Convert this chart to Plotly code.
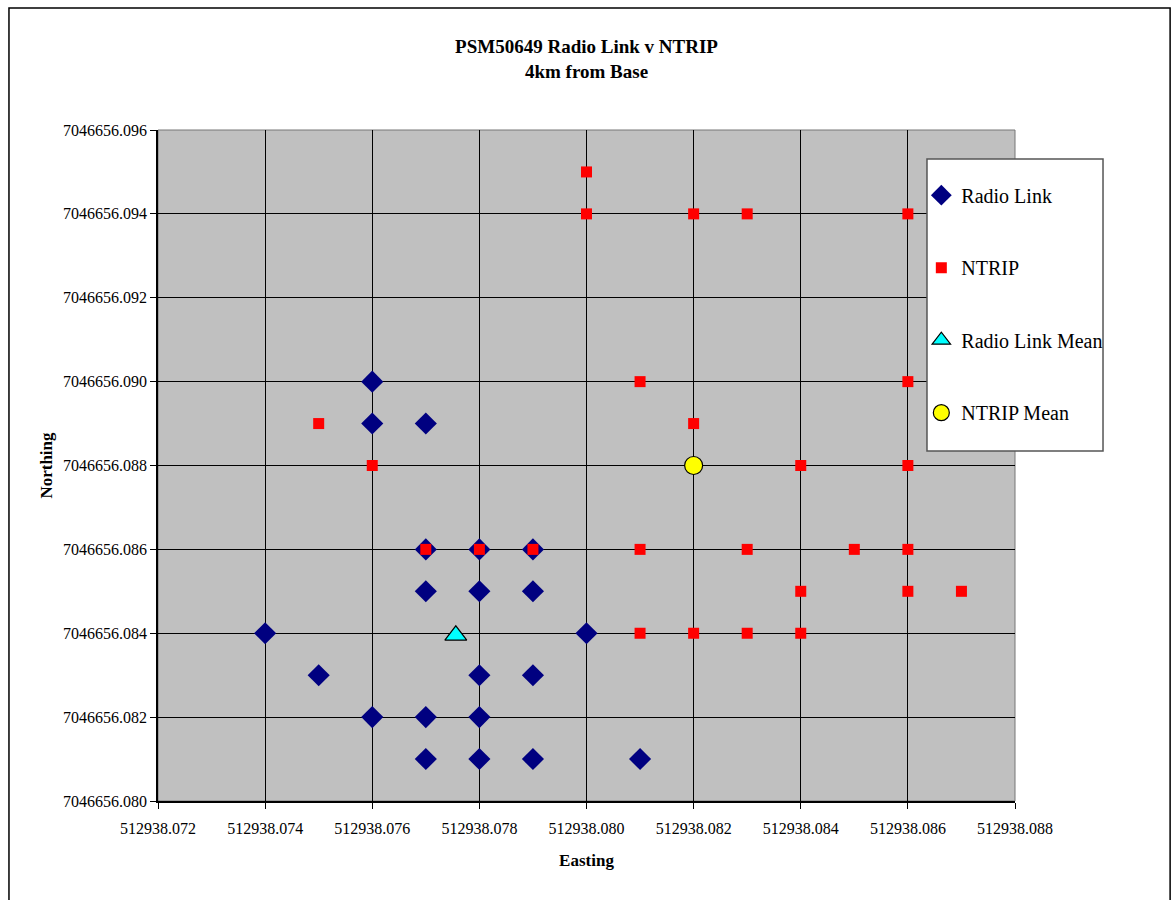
import plotly.graph_objects as go

title_lines = ["PSM50649 Radio Link v NTRIP", "4km from Base"]

radio_easting = [512938.074, 512938.075, 512938.076, 512938.076, 512938.076,
                 512938.077, 512938.077, 512938.077, 512938.077, 512938.077,
                 512938.078, 512938.078, 512938.078, 512938.078, 512938.078,
                 512938.079, 512938.079, 512938.079, 512938.079,
                 512938.080, 512938.081]
radio_northing = [7046656.084, 7046656.083, 7046656.090, 7046656.089, 7046656.082,
                  7046656.089, 7046656.086, 7046656.085, 7046656.082, 7046656.081,
                  7046656.086, 7046656.085, 7046656.083, 7046656.082, 7046656.081,
                  7046656.086, 7046656.085, 7046656.083, 7046656.081,
                  7046656.084, 7046656.081]

ntrip_easting = [512938.075, 512938.076, 512938.077, 512938.078, 512938.079,
                 512938.080, 512938.080,
                 512938.081, 512938.081, 512938.081,
                 512938.082, 512938.082, 512938.082,
                 512938.083, 512938.083, 512938.083,
                 512938.084, 512938.084, 512938.084,
                 512938.085,
                 512938.086, 512938.086, 512938.086, 512938.086, 512938.086,
                 512938.087]
ntrip_northing = [7046656.089, 7046656.088, 7046656.086, 7046656.086, 7046656.086,
                  7046656.095, 7046656.094,
                  7046656.090, 7046656.086, 7046656.084,
                  7046656.094, 7046656.089, 7046656.084,
                  7046656.094, 7046656.086, 7046656.084,
                  7046656.088, 7046656.085, 7046656.084,
                  7046656.086,
                  7046656.094, 7046656.090, 7046656.088, 7046656.086, 7046656.085,
                  7046656.085]

radio_mean_easting = [512938.07756]
radio_mean_northing = [7046656.08395]
ntrip_mean_easting = [512938.082]
ntrip_mean_northing = [7046656.088]

x_range = [512938.072, 512938.088]
y_range = [7046656.080, 7046656.096]
x_dtick = 0.002
y_dtick = 0.002

font_family = "Liberation Serif"

fig = go.Figure()
fig.add_trace(go.Scatter(
    x=radio_easting, y=radio_northing, mode="markers", name="Radio Link",
    legendgroup="a",
    marker=dict(symbol="diamond", size=17, color="#000080", line=dict(width=0))))
fig.add_trace(go.Scatter(
    x=ntrip_easting, y=ntrip_northing, mode="markers", name="NTRIP",
    legendgroup="b",
    marker=dict(symbol="square", size=11, color="#FF0000", line=dict(width=0))))
fig.add_trace(go.Scatter(
    x=radio_mean_easting, y=radio_mean_northing, mode="markers", name="Radio Link Mean",
    legendgroup="c",
    marker=dict(symbol="triangle-up", size=19, color="#00FFFF", line=dict(width=1.2, color="black"))))
fig.add_trace(go.Scatter(
    x=ntrip_mean_easting, y=ntrip_mean_northing, mode="markers", name="NTRIP Mean",
    legendgroup="d",
    marker=dict(symbol="circle", size=18, color="#FFFF00", line=dict(width=1.2, color="black"))))

fig.update_layout(
    width=1173, height=900,
    margin=dict(l=158, r=158, t=130, b=99),
    paper_bgcolor="white",
    plot_bgcolor="#C0C0C0",
    font=dict(family=font_family, color="black", size=16),
    title=dict(text="<b>" + "<br>".join(title_lines) + "</b>",
               x=0.5, xanchor="center", y=0.941, yanchor="top",
               font=dict(size=19, family=font_family)),
    legend=dict(x=0.8907, y=0.932, xanchor="left", yanchor="top",
                bgcolor="rgba(0,0,0,0)", borderwidth=0,
                font=dict(size=20, family=font_family),
                tracegroupgap=43.5, itemsizing="trace"),
    xaxis=dict(range=x_range, dtick=x_dtick, tick0=x_range[0], tickformat=".3f",
               showgrid=True, gridcolor="black", gridwidth=1,
               showline=True, linecolor="black", linewidth=1.5, mirror=False,
               ticks="outside", ticklen=6, tickcolor="black",
               ticklabelstandoff=6,
               tickfont=dict(size=16, family=font_family),
               zeroline=False,
               title=dict(text="<b>Easting</b>", font=dict(size=17, family=font_family), standoff=18)),
    yaxis=dict(range=y_range, dtick=y_dtick, tick0=y_range[0], tickformat=".3f",
               showgrid=True, gridcolor="black", gridwidth=1,
               showline=True, linecolor="black", linewidth=1.5, mirror=False,
               ticks="outside", ticklen=6, tickcolor="black",
               tickfont=dict(size=16, family=font_family),
               zeroline=False,
               title=dict(text="<b>Northing</b>", font=dict(size=17, family=font_family), standoff=6)),
    shapes=[
        dict(type="rect", xref="paper", yref="paper", x0=0, x1=1, y0=0, y1=1,
             line=dict(color="#777777", width=1), layer="below"),
        dict(type="rect", xref="paper", yref="paper",
             x0=0.8973, x1=1.1027, y0=0.5216, y1=0.9568,
             line=dict(color="#555555", width=1.5), fillcolor="white", layer="above"),
        dict(type="rect", xref="paper", yref="paper",
             x0=-0.1739, x1=1.181, y0=-0.2, y1=1.1818,
             line=dict(color="black", width=1.5), fillcolor="rgba(0,0,0,0)"),
    ],
)

fig.write_html("out.html")
